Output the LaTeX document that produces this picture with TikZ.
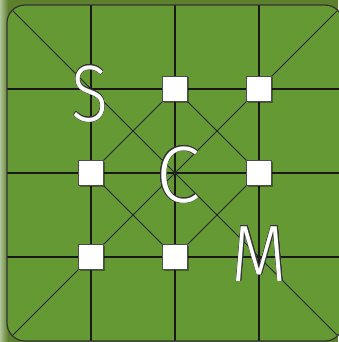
\documentclass[tikz,border=0pt]{standalone}
\usepackage{fontspec}
\setsansfont{Fira Sans}[UprightFont=* Light]
\usepackage{contour}
\contourlength{0.5pt}
\usetikzlibrary{shadows}
\definecolor{fieldgreen}{RGB}{101,153,52}
\definecolor{outergreen}{RGB}{92,128,44}
\definecolor{leftpale}{RGB}{175,195,150}
\begin{document}
\begin{tikzpicture}[x=1pt,y=-1pt,
  gridline/.style={line width=1.2pt, draw=black!90},
  diagline/.style={line width=0.8pt, draw=black!85},
  cell/.style={draw=black!70, fill=white, minimum size=25pt, inner sep=0pt, line width=0.7pt,
    drop shadow={shadow xshift=1pt, shadow yshift=-1pt, opacity=0.35, fill=black}},
  letter/.style={font=\sffamily\fontsize{80}{80}\selectfont, inner sep=0pt, text=white}]
\useasboundingbox (0,0) rectangle (338,342);
% background outside the board
\fill[outergreen] (0,0) rectangle (338,342);
\shade[left color=leftpale, right color=outergreen] (0,0) rectangle (8,342);
% board
\def\boardpath{(7,5) rectangle (343,341)}
\fill[fieldgreen, rounded corners=18pt] \boardpath;
\foreach \i in {0,...,4}{
  \foreach \j in {0,...,4}{
    \coordinate (p-\i-\j) at ({7+84*\i},{5+84*\j});
  }
}
\begin{scope}
  \clip[rounded corners=18pt] \boardpath;
  \foreach \k in {1,2,3}{
    \draw[gridline] (p-\k-0) -- (p-\k-4);
    \draw[gridline] (p-0-\k) -- (p-4-\k);
  }
  \draw[diagline] (p-0-0) -- (p-4-4);
  \draw[diagline] (p-4-0) -- (p-0-4);
  \draw[diagline] (p-2-1) -- (p-3-2) -- (p-2-3) -- (p-1-2) -- cycle;
\end{scope}
\draw[line width=1.2pt, draw=black!80, rounded corners=18pt] \boardpath;
% white squares
\node[cell] (s1) at (p-2-1) {};
\node[cell] (s2) at (p-3-1) {};
\node[cell] (s3) at (p-1-2) {};
\node[cell] (s4) at (p-3-2) {};
\node[cell] (s5) at (p-1-3) {};
\node[cell] (s6) at (p-2-3) {};
% letters
\node[letter, xscale=0.86] (lS) at (90,94) {\contour{black!80}{S}};
\node[letter, xscale=1.0] (lC) at (178,175) {\contour{black!80}{C}};
\node[letter, xscale=0.9] (lM) at (259.5,254) {\contour{black!80}{M}};
\end{tikzpicture}
\end{document}
